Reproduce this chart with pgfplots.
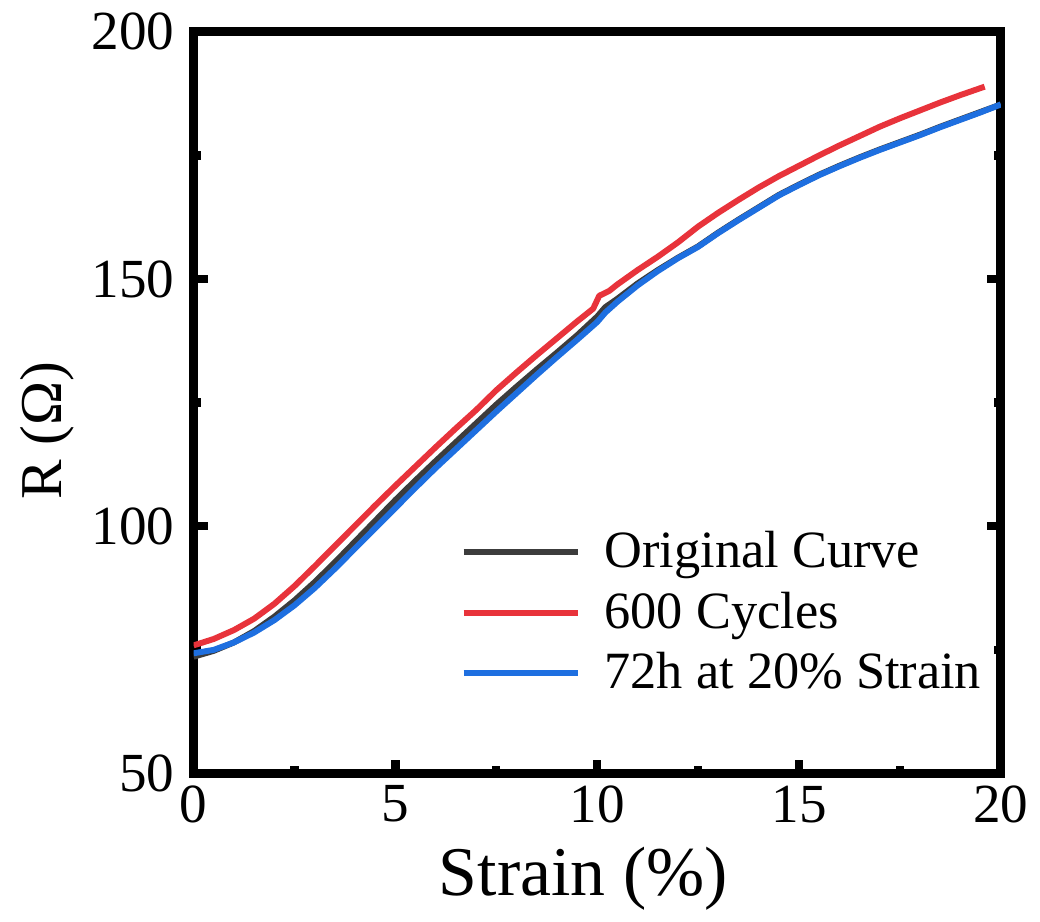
\documentclass[border=0pt]{standalone}
\usepackage{fontspec}
\setmainfont{Liberation Serif}
\usepackage{pgfplots}
\pgfplotsset{compat=1.18}

\definecolor{origgray}{HTML}{3C3C3C}
\definecolor{cycred}{HTML}{E8333B}
\definecolor{holdblue}{HTML}{1E6FE0}

\begin{document}
\begin{tikzpicture}
\begin{axis}[
  scale only axis, width=8.13cm, height=7.47cm,
  xmin=0, xmax=20, ymin=50, ymax=200,
  xtick={0,5,10,15,20}, ytick={50,100,150,200},
  minor x tick num=1, minor y tick num=1,
  xtick pos=bottom, ytick pos=both,
  tick align=inside,
  major tick length=0.14cm, minor tick length=0.07cm,
  every tick/.style={line width=2.4pt, black},
  axis line style={line width=2.6pt},
  /pgf/number format/assume math mode=true,
  tick label style={font=\fontsize{15.8}{18}\selectfont},
  yticklabel style={xshift=-2pt},
  xlabel={Strain (\%)}, ylabel={R (Ω)},
  xlabel style={font=\fontsize{20}{23}\selectfont, yshift=0pt, xshift=-4pt},
  ylabel style={font=\fontsize{17}{20}\selectfont, yshift=-2pt, xshift=-8pt},
  legend style={draw=none, fill=none, at={(0.33,0.337)}, anchor=north west,
    font=\fontsize{15}{18}\selectfont, row sep=1.5pt, inner sep=0pt,
    /tikz/every odd column/.append style={column sep=0.17cm}},
  legend cell align=left,
  legend image code/.code={\draw[#1, line width=1.7pt] (0cm,0cm) -- (1.15cm,0cm);},
  every axis plot/.append style={line width=1.7pt, line join=round},
]
\addplot[origgray] coordinates {
(0,73.6) (0.5,74.8) (1,76.5) (1.5,78.8) (2,81.7) (2.5,85.0) (3,88.7) (3.5,92.7)
(4,96.9) (4.5,101.1) (5,105.3) (5.5,109.3) (6,113.2) (6.5,117.0) (7,120.8) (7.5,124.6)
(8,128.2) (8.5,131.7) (9,135.1) (9.5,138.6) (10,142.4) (10.2,144.3) (10.5,146.0)
(11,149.1) (11.5,151.8) (12,154.3) (12.5,156.6) (13,159.4) (13.5,162.0) (14,164.5)
(14.5,167.0) (15,169.1) (15.5,171.1) (16,172.9) (16.5,174.6) (17,176.2) (17.5,177.7)
(18,179.2) (18.5,180.8) (19,182.3) (19.5,183.8) (20,185.3)};
\addlegendentry{Original Curve}
\addplot[cycred] coordinates {
(0,75.9) (0.5,77.2) (1,79.0) (1.5,81.3) (2,84.3) (2.5,87.9) (3,91.9) (3.5,96.0)
(4,100.1) (4.5,104.2) (5,108.2) (5.5,112.1) (6,116.0) (6.5,119.8) (7,123.5) (7.5,127.5)
(8,131.1) (8.5,134.6) (9,138.0) (9.5,141.4) (9.9,144.0) (10.05,146.6) (10.3,147.6)
(10.5,148.9) (11,151.8) (11.5,154.5) (12,157.4) (12.5,160.6) (13,163.4) (13.5,166.0)
(14,168.5) (14.5,170.8) (15,172.9) (15.5,175.0) (16,177.0) (16.5,178.9) (17,180.8)
(17.5,182.5) (18,184.1) (18.5,185.7) (19,187.2) (19.6,188.9)};
\addlegendentry{600 Cycles}
\addplot[holdblue] coordinates {
(0,74.3) (0.5,75.0) (1,76.5) (1.5,78.5) (2,81.0) (2.5,84.0) (3,87.5) (3.5,91.4)
(4,95.5) (4.5,99.6) (5,103.7) (5.5,107.8) (6,111.8) (6.5,115.6) (7,119.4) (7.5,123.2)
(8,126.9) (8.5,130.6) (9,134.2) (9.5,137.7) (10,141.3) (10.2,143.2) (10.5,145.4)
(11,148.7) (11.5,151.6) (12,154.2) (12.5,156.5) (13,159.3) (13.5,161.9) (14,164.4)
(14.5,166.9) (15,169.0) (15.5,171.0) (16,172.8) (16.5,174.5) (17,176.1) (17.5,177.6)
(18,179.1) (18.5,180.7) (19,182.2) (19.5,183.7) (20,185.3)};
\addlegendentry{72h at 20\% Strain}
\end{axis}
\path (current axis.south west) ++(-1.95cm,-1.29cm) coordinate (bbsw);
\path (current axis.north east) ++(0.32cm,0.32cm) coordinate (bbne);
\useasboundingbox (bbsw) rectangle (bbne);
\end{tikzpicture}
\end{document}
